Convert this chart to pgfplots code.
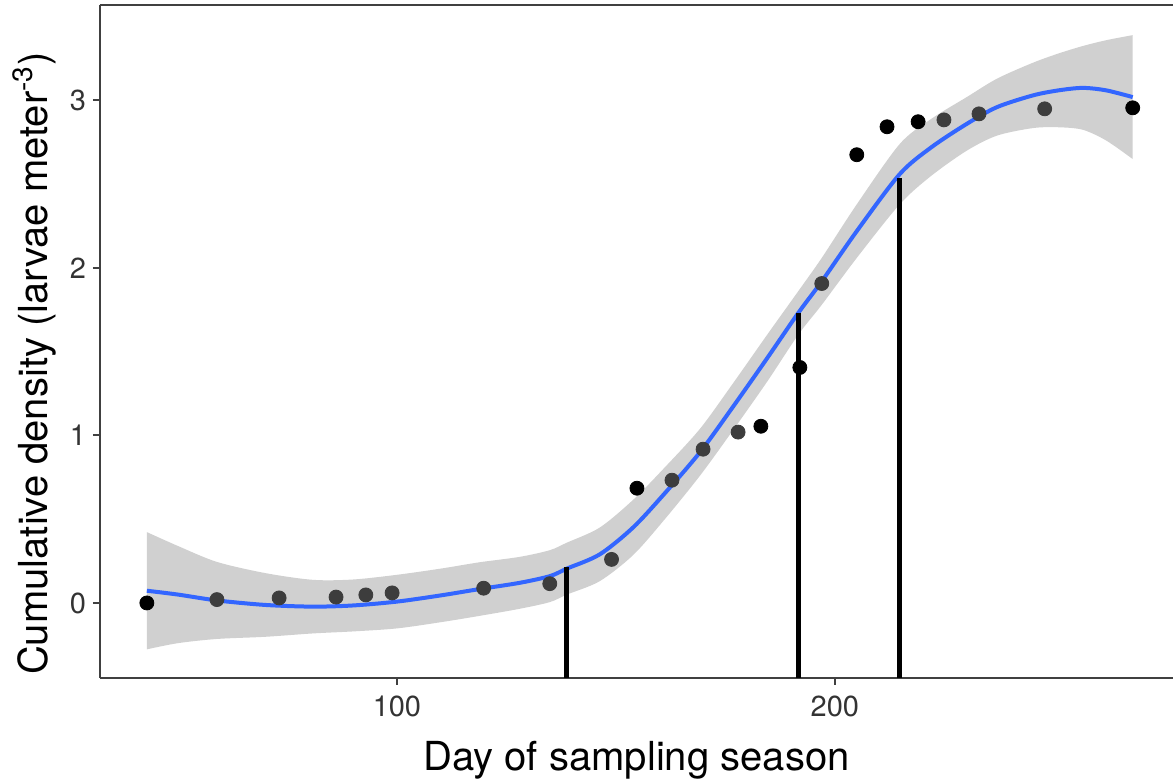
\documentclass[border=0pt]{standalone}
\usepackage{fontspec}
\setmainfont{TeX Gyre Heros}
\usepackage{pgfplots}
\pgfplotsset{compat=1.18}
\usepgfplotslibrary{fillbetween}
\definecolor{smoothblue}{HTML}{3366FF}
\definecolor{bandgrey}{HTML}{D0D0D0}
\definecolor{ptgrey}{HTML}{3D3D3D}
\begin{document}
\begin{tikzpicture}
\begin{axis}[
  name=ax,
  set layers,
  scale only axis,
  width=536.5pt, height=336.5pt,
  xmin=32.2, xmax=277.2,
  ymin=-0.448, ymax=3.57,
  axis x line*=bottom, axis y line*=left,
  axis line style={black!75, line width=1pt},
  xtick={100,200}, ytick={0,1,2,3},
  tick align=outside,
  major tick length=3.5pt,
  tick style={black!75, line width=1pt},
  ticklabel style={font=\fontsize{14.5}{16}\selectfont, text=black!80},
  xticklabel style={yshift=-2pt},
  /pgf/number format/assume math mode=true,
  xlabel={Day of sampling season},
  ylabel={Cumulative density (larvae meter\textsuperscript{-3})},
  label style={font=\fontsize{20}{23}\selectfont},
  xlabel style={yshift=-5pt},
  ylabel style={at={(ticklabel cs:0.467)}},
  fill between/on layer=pre main,
  clip=false,
]
% confidence band (drawn below everything on the main layer)
\addplot[name path=U, draw=none, smooth, forget plot] coordinates {
(42.9,0.423) (50,0.34) (58.9,0.245) (70,0.178) (80.8,0.138) (90,0.14)
(100,0.168) (110,0.205) (118.9,0.243) (128,0.275) (134.9,0.315) (138.8,0.36)
(146.3,0.45) (153.9,0.615) (161,0.805) (169.2,1.04) (176.7,1.31) (184.5,1.6)
(191.6,1.86) (197,2.06) (205,2.38) (214.8,2.74) (222,2.89) (230.1,3.02)
(237,3.13) (245.2,3.225) (251,3.28) (256.6,3.325) (262,3.36) (268,3.39)
};
\addplot[name path=L, draw=none, smooth, forget plot] coordinates {
(42.9,-0.277) (50,-0.24) (58.9,-0.215) (70,-0.202) (80.8,-0.182) (90,-0.17)
(100,-0.152) (110,-0.115) (118.9,-0.077) (128,-0.035) (134.9,0.005) (138.8,0.05)
(146.3,0.13) (153.9,0.285) (161,0.495) (169.2,0.76) (176.7,1.03) (184.5,1.32)
(191.6,1.6) (197,1.78) (205,2.06) (214.8,2.38) (222,2.55) (230.1,2.7)
(237,2.79) (245.2,2.835) (251,2.84) (256.6,2.825) (262,2.76) (268,2.65)
};
\addplot[draw=none, fill=bandgrey] fill between[of=U and L];
% observed points outside the band
\addplot[only marks, mark=*, mark size=3.5pt, black] coordinates {
(42.9,0.0) (154.8,0.685) (183.1,1.055) (192.0,1.406)
(205.0,2.676) (211.9,2.843) (219.0,2.873) (268.0,2.956)
};
% observed points inside the band (shaded by the ribbon)
\addplot[only marks, mark=*, mark size=3.5pt, ptgrey] coordinates {
(58.9,0.02) (73.1,0.03) (86.1,0.035) (92.9,0.048) (98.9,0.06)
(119.8,0.088) (134.9,0.115) (149.0,0.26) (162.8,0.733)
(169.9,0.918) (177.9,1.02) (197.0,1.907)
(224.9,2.884) (232.9,2.92) (247.9,2.95)
};
% smooth fit
\addplot[smoothblue, line width=2pt, smooth] coordinates {
(42.9,0.073) (50,0.05) (58.9,0.015) (70,-0.012) (80.8,-0.022) (90,-0.015)
(100,0.008) (110,0.045) (118.9,0.083) (128,0.12) (134.9,0.16) (138.8,0.205)
(146.3,0.29) (153.9,0.45) (161,0.65) (169.2,0.9) (176.7,1.17) (184.5,1.46)
(191.6,1.73) (197,1.92) (205,2.22) (214.8,2.56) (222,2.72) (230.1,2.86)
(237,2.96) (245.2,3.03) (251,3.06) (256.6,3.075) (262,3.06) (268,3.02)
};
% vertical markers
\addplot[black, line width=2.5pt] coordinates {(138.8,-0.448) (138.8,0.215)};
\addplot[black, line width=2.5pt] coordinates {(191.6,-0.448) (191.6,1.734)};
\addplot[black, line width=2.5pt] coordinates {(214.8,-0.448) (214.8,2.54)};
\draw[black!75, line width=1pt] (rel axis cs:0,1) -- (rel axis cs:1,1);
\coordinate (sw) at (rel axis cs:0,0);
\coordinate (ne) at (rel axis cs:1,1);
\end{axis}
\pgfresetboundingbox
\path ([xshift=-50pt,yshift=-53pt]sw) rectangle ([yshift=2.5pt]ne);
\end{tikzpicture}
\end{document}
